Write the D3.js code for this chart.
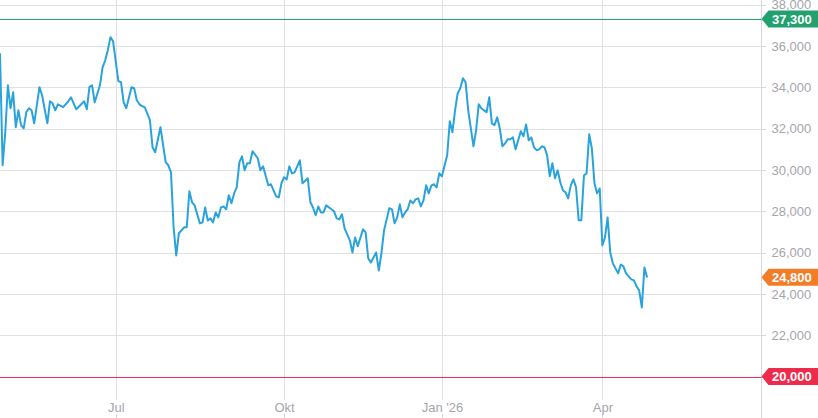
<!DOCTYPE html>
<html>
<head>
<meta charset="utf-8">
<script src="https://cdn.jsdelivr.net/npm/d3@7"></script>
<style>
  body { margin: 0; background: #fff; }
  svg { display: block; font-family: "Liberation Sans", Arial, sans-serif; }
  .grid line { stroke: #e0e0e6; stroke-width: 1; shape-rendering: crispEdges; }
  .axis text { fill: #a5a5ad; font-size: 13px; }
  .axis line { stroke: #d6d6de; shape-rendering: crispEdges; }
  .axis path { display: none; }
</style>
</head>
<body>
<div id="chart_area"></div>
<script>
// trading day index (0 = first visible session) and closing price
var tradingDay = [0,1,2,3,4,5,6,7,8,9,10,11,12,13,15,16,18,19,20,21,22,24,26,27,29,32,33,34,35,36,38,39,40,41,42,43,45,46,47,48,50,51,52,53,54,55,57,58,59,61,63,64,65,66,67,68,70,71,72,73,74,76,77,78,79,80,81,82,83,84,85,86,87,88,89,90,91,92,93,94,95,96,98,99,100,102,103,105,106,107,108,109,110,111,112,114,115,117,118,119,120,121,122,123,124,126,127,128,129,130,131,133,134,135,136,138,139,140,141,143,144,145,146,148,149,150,151,152,153,154,155,156,157,158,159,160,161,162,163,164,165,166,167,168,170,171,172,173,174,175,176,177,178,179,180,181,182,183,184,185,186,187,188,189,190,191,192,193,194,195,196,198,199,200,201,202,203,204,205,206,207,208,209,210,211,212,213,214,215,216,217,218,219,220,221,222,223,224,225,226,227,228,229,230,231,232,233,235,236,237,238,240,241,242,243,244,245,246];
var closePrice = [35640,30220,31800,34090,32980,33750,32060,32880,32160,32010,32790,32980,32880,32250,34000,33610,32250,33320,33220,32880,33170,33030,33320,33510,32930,33320,32930,34000,34090,33270,34090,34960,35300,35790,36420,36220,34290,34240,33270,32980,34000,33950,33370,33170,33080,33030,32400,31090,30850,32060,30360,30220,29880,27220,25860,26930,27220,27220,28960,28430,28280,27410,27460,28180,27550,27650,27460,27940,27700,28180,28230,28090,28770,28380,28860,29150,30360,30650,29980,30320,30320,30900,30560,29980,30170,29250,29300,28720,28670,29350,29640,29540,30170,29830,29880,30460,29350,29590,28430,28180,27800,28230,27940,27940,28280,28090,27990,27650,27600,27850,27170,26590,26000,26730,26300,27120,26970,25710,25520,26000,25130,25960,27070,28140,28090,27410,27700,28330,27700,27940,28090,28520,28380,28570,28620,28230,28520,29250,28860,29250,29300,29150,29830,29690,30700,32350,31820,32880,33710,33950,34430,34240,32880,32010,31140,31910,33170,32980,32880,32790,33510,32250,32160,32540,32010,31140,31280,31480,31480,31570,30990,31870,31620,32200,31430,31570,31090,30950,30990,31140,31090,30700,29690,30320,29590,29980,29400,29010,28910,28620,29250,29540,29150,27560,27560,29730,29830,31720,31040,29350,28860,29100,26340,26730,27700,26000,25470,24990,25420,25330,24990,24700,24650,24360,24170,23340,25280,24790];

var monthTickDays = [44, 108, 168, 229];
var monthTickLabels = ["Jul", "Okt", "Jan '26", "Apr"];
var priceTicks = [20000, 22000, 24000, 26000, 28000, 30000, 32000, 34000, 36000, 38000];

var markerLevels = [37300, 24800, 20000];
var markerNames = ["high", "last", "low"];

var frame_width = 818;
var frame_height = 418;
var plot_right = 761.5;

var svg = d3.select("#chart_area").append("svg")
    .attr("width", frame_width)
    .attr("height", frame_height);

var xScale = d3.scaleLinear().domain([0, 289.5]).range([0, plot_right]);
var yScale = d3.scaleLinear().domain([20000, 38000]).range([376.5, 4.5]);

var colours = {high: "#22a06e", last: "#f27d28", low: "#ef2b4c"};

// horizontal grid
svg.append("g").attr("class", "grid")
    .selectAll("line")
    .data(priceTicks.filter(function(d){ return d != 20000; }))
    .enter().append("line")
    .attr("x1", 0).attr("x2", plot_right)
    .attr("y1", function(d){ return Math.round(yScale(d)) + 0.5; })
    .attr("y2", function(d){ return Math.round(yScale(d)) + 0.5; });

// vertical grid
svg.append("g").attr("class", "grid")
    .selectAll("line")
    .data(monthTickDays)
    .enter().append("line")
    .attr("x1", function(d){ return Math.round(xScale(d)) + 0.5; })
    .attr("x2", function(d){ return Math.round(xScale(d)) + 0.5; })
    .attr("y1", 0).attr("y2", 400);

// right axis line
svg.append("line")
    .attr("x1", plot_right).attr("x2", plot_right)
    .attr("y1", 0).attr("y2", frame_height)
    .style("stroke", "#d6d6de");

var yAxis = d3.axisRight(yScale)
    .tickValues(priceTicks)
    .tickFormat(d3.format(","))
    .tickSize(4)
    .tickPadding(6);

svg.append("g")
    .attr("class", "axis")
    .attr("transform", "translate(" + plot_right + ",0)")
    .call(yAxis);

var xAxis = d3.axisTop(xScale)
    .tickValues(monthTickDays)
    .tickFormat(function(d, i){ return monthTickLabels[i]; })
    .tickSize(4)
    .tickPadding(2);

svg.append("g")
    .attr("class", "axis")
    .attr("transform", "translate(0," + frame_height + ")")
    .call(xAxis);

// reference lines for high and low
[0, 2].forEach(function(i){
    var yy = Math.round(yScale(markerLevels[i])) + 0.5;
    svg.append("line")
        .attr("x1", 0).attr("x2", plot_right)
        .attr("y1", yy).attr("y2", yy)
        .style("stroke", colours[markerNames[i]])
        .style("stroke-width", 1);
});

// price line
var series = tradingDay.map(function(d, i){ return {day: d, price: closePrice[i]}; });
var line = d3.line()
    .x(function(d){ return xScale(d.day); })
    .y(function(d){ return yScale(d.price); });

svg.append("path")
    .datum(series)
    .attr("d", line)
    .style("fill", "none")
    .style("stroke", "#2aa3dd")
    .style("stroke-width", 2)
    .style("stroke-linejoin", "round");

// value badges
var badges = svg.append("g").selectAll("g")
    .data(markerLevels)
    .enter().append("g")
    .attr("transform", function(d){ return "translate(0," + yScale(d) + ")"; });

badges.append("path")
    .attr("d", "M" + plot_right + ",0L" + (plot_right + 7) + ",-8.5L" + frame_width + ",-8.5L" + frame_width + ",8.5L" + (plot_right + 7) + ",8.5Z")
    .style("fill", function(d, i){ return colours[markerNames[i]]; });

badges.append("text")
    .attr("x", 772)
    .attr("y", 4.6)
    .style("fill", "#fff")
    .style("font-size", "13px")
    .style("font-weight", "bold")
    .text(function(d){ return d3.format(",")(d); });
</script>
</body>
</html>
